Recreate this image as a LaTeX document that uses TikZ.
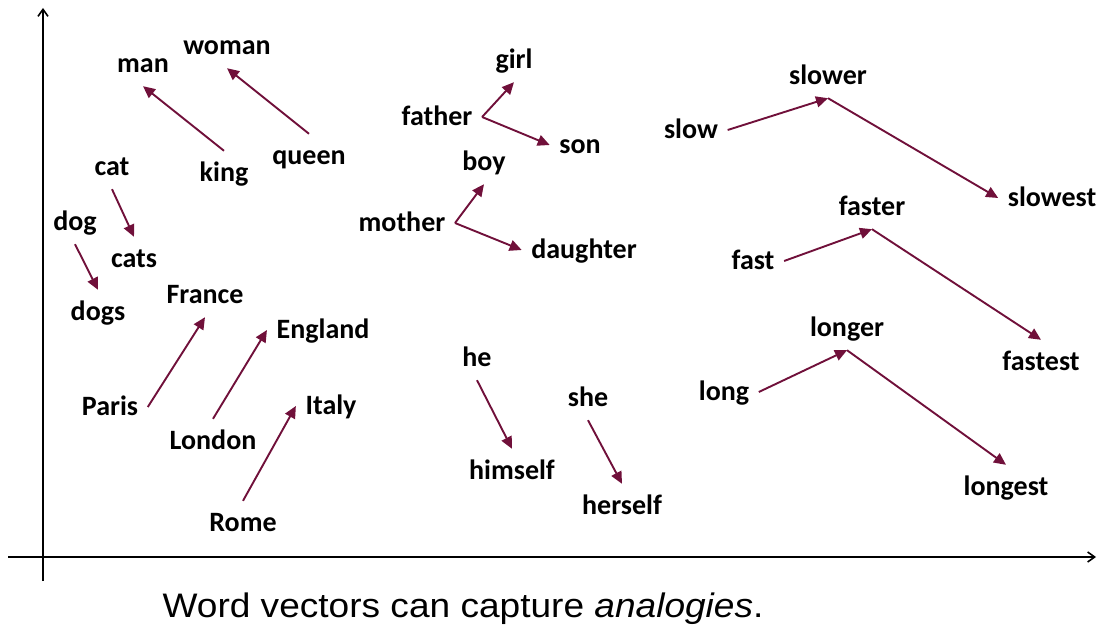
\documentclass[tikz,border=0pt]{standalone}
\usepackage{fontspec}
\setmainfont{Carlito}
\newfontfamily\captionfont{Liberation Sans}
\usetikzlibrary{arrows.meta}
\definecolor{vecred}{RGB}{112,16,58}

\begin{document}
\begin{tikzpicture}[x=1pt, y=-1pt,
    word/.style={font=\fontsize{28}{34}\selectfont\bfseries, inner xsep=9.5pt,
                 inner ysep=10.5pt, text height=20pt, text depth=3pt},
    vec/.style={draw=vecred, line width=1.9pt, -{Triangle[length=12pt, width=11pt]}}]
    \useasboundingbox (0,0) rectangle (1097,628);

    % 1. 坐标轴
    \coordinate (Ybot) at (43,581);
    \coordinate (Ytop) at (43,8);
    \coordinate (Xleft) at (8,557);
    \coordinate (Xright) at (1096,557);
    \draw[line width=1.6pt, -{Straight Barb[length=7pt, width=10pt]}] (Ybot) -- (Ytop);
    \draw[line width=1.6pt, -{Straight Barb[length=7pt, width=10pt]}] (Xleft) -- (Xright);

    % 2. 左侧的词
    \node[word] (man) at (143,64) {man};
    \node[word] (woman) at (227,46) {woman};
    \node[word] (king) at (224,173) {king};
    \node[word] (queen) at (309,156) {queen};
    \node[word] (cat) at (112,167) {cat};
    \node[word] (cats) at (134,259) {cats};
    \node[word] (dog) at (75,222) {dog};
    \node[word] (dogs) at (98,312) {dogs};
    \node[word] (France) at (205,295) {France};
    \node[word] (England) at (323,330) {England};
    \node[word] (Paris) at (110,407) {Paris};
    \node[word] (London) at (213,441) {London};
    \node[word] (Italy) at (331,406) {Italy};
    \node[word] (Rome) at (243,523) {Rome};

    % 3. 中间的词
    \node[word] (girl) at (514,60) {girl};
    \node[word] (father) at (437,117) {father};
    \node[word] (son) at (580,145) {son};
    \node[word] (boy) at (484,162) {boy};
    \node[word] (mother) at (402,223) {mother};
    \node[word] (daughter) at (584,250) {daughter};
    \node[word] (he) at (477,358) {he};
    \node[word] (himself) at (512,471) {himself};
    \node[word] (she) at (588,398) {she};
    \node[word] (herself) at (622,506) {herself};

    % 4. 右侧的词
    \node[word] (slow) at (691,130) {slow};
    \node[word] (slower) at (828,76) {slower};
    \node[word] (slowest) at (1052,198) {slowest};
    \node[word] (fast) at (753,261) {fast};
    \node[word] (faster) at (872,207) {faster};
    \node[word] (fastest) at (1041,362) {fastest};
    \node[word] (long) at (724,392) {long};
    \node[word] (longer) at (847,328) {longer};
    \node[word] (longest) at (1006,487) {longest};

    % 5. 词向量箭头
    \draw[vec] (king.north) -- (man.south);
    \draw[vec] (queen.north) -- (woman.south);
    \draw[vec] (cat.south) -- (cats.north);
    \draw[vec] (dog.south) -- (dogs.north);
    \draw[vec] (Paris.east) -- (France.south);
    \draw[vec] (London.north) -- (England.west);
    \draw[vec] (Rome.north) -- (Italy.west);
    \draw[vec] (father.east) -- (girl.south);
    \draw[vec] (father.east) -- (son.west);
    \draw[vec] (mother.east) -- (boy.south);
    \draw[vec] (mother.east) -- (daughter.west);
    \draw[vec] (he.south) -- (himself.north);
    \draw[vec] (she.south) -- (herself.north);
    \draw[vec] (slow.east) -- (slower.south);
    \draw[vec] (slower.south) -- (slowest.west);
    \draw[vec] (fast.east) -- (faster.south);
    \draw[vec] (faster.south) -- (fastest.north);
    \draw[vec] (long.east) -- (longer.south);
    \draw[vec] (longer.south) -- (longest.north);

    % 6. 图注
    \node[font=\captionfont\fontsize{34}{40}\selectfont, xscale=1.09] (caption) at (463,609)
        {Word vectors can capture \textit{analogies}.};
\end{tikzpicture}
\end{document}
